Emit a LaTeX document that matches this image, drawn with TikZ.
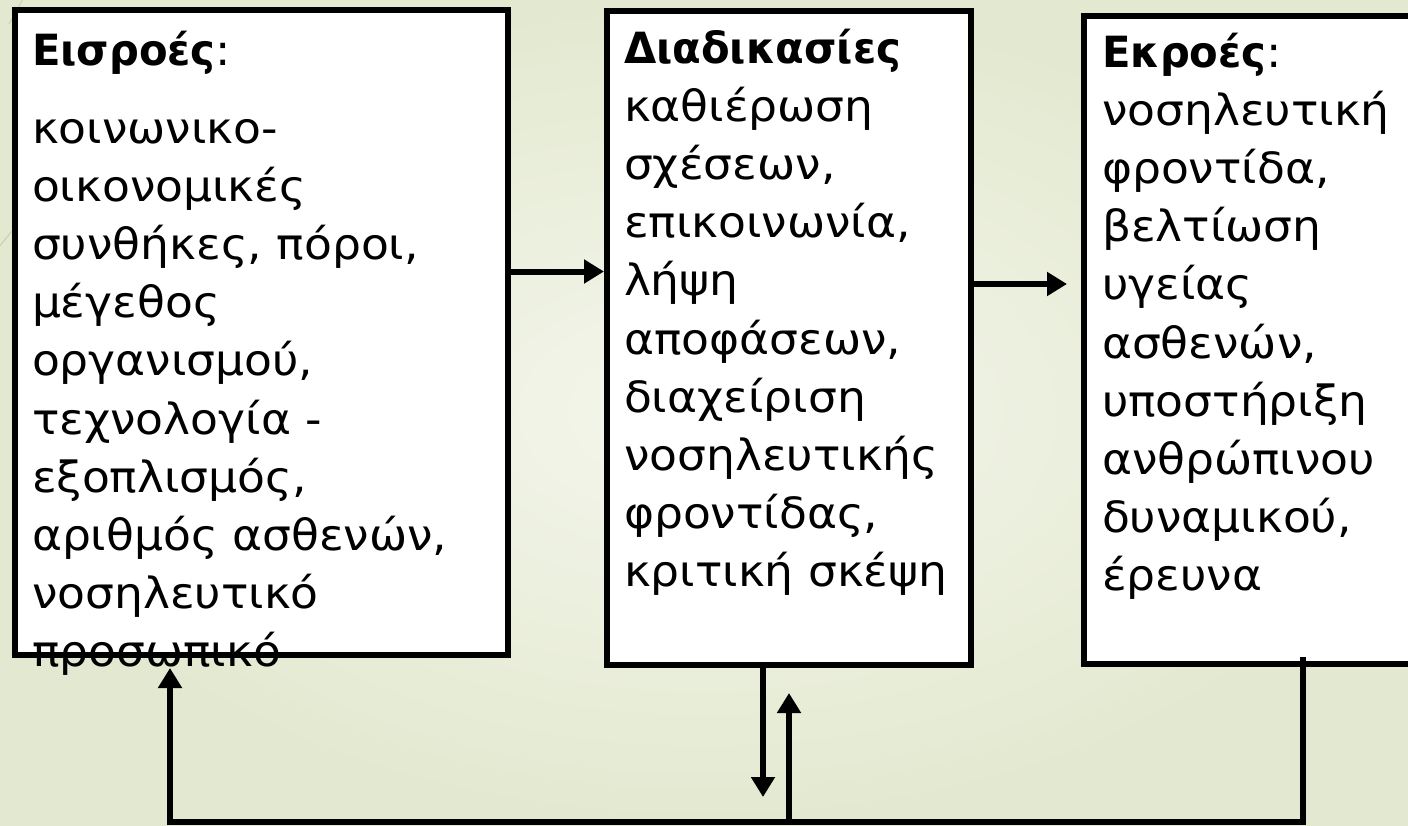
\documentclass[tikz,border=0pt]{standalone}
\usepackage{fontspec}
\setmainfont{DejaVu Sans}[FakeStretch=1.06, BoldFeatures={FakeStretch=0.97}]
\usetikzlibrary{arrows.meta}
\definecolor{bgin}{HTML}{F4F6EC}
\definecolor{bgout}{HTML}{E3E9D0}
\definecolor{wisp}{HTML}{C9D0B2}
\begin{document}
\begin{tikzpicture}[x=1pt,y=-1pt,
  box/.style={draw=black, line width=6pt, fill=white, inner sep=0pt, outer sep=0pt, anchor=north west},
  txt/.style={anchor=base west, inner sep=0pt, outer sep=0pt},
  conn/.style={line width=6pt, draw=black},
  arr/.style={conn, -{Triangle[length=20pt,width=23pt]}}]
\useasboundingbox (0,0) rectangle (1408,825);
\clip (0,0) rectangle (1408,825);
\shade[inner color=bgin, outer color=bgout] (0,0) rectangle (1408,825);
\draw[wisp, line width=1pt] (23,-1) -- (9,24);
\draw[wisp, line width=1pt] (16,226) -- (-1,247);

\node[box, minimum width=493pt, minimum height=645pt] (in) at (15,10) {};
\node[box, minimum width=364pt, minimum height=654pt] (proc) at (607,11) {};
\node[box, minimum width=400pt, minimum height=648pt] (out) at (1084,16) {};

\newcommand{\boxtext}[2]{\begin{minipage}[t]{#1}\fontsize{43}{58.2}\selectfont\raggedright #2\end{minipage}}

\node[txt] (tin) at (32,65) {\boxtext{480pt}{\textbf{Εισροές}:\\[19.8pt]
κοινωνικο-\\
οικονομικές\\
συνθήκες, πόροι,\\
μέγεθος\\
οργανισμού,\\
τεχνολογία -\\
εξοπλισμός,\\
αριθμός ασθενών,\\
νοσηλευτικό\\
προσωπικό}};
\node[txt] (tproc) at (624,63) {\boxtext{345pt}{\textbf{Διαδικασίες}\\
καθιέρωση\\
σχέσεων,\\
επικοινωνία,\\
λήψη\\
αποφάσεων,\\
διαχείριση\\
νοσηλευτικής\\
φροντίδας,\\
κριτική σκέψη}};
\node[txt] (tout) at (1102,67) {\boxtext{300pt}{\textbf{Εκροές}:\\
νοσηλευτική\\
φροντίδα,\\
βελτίωση\\
υγείας\\
ασθενών,\\
υποστήριξη\\
ανθρώπινου\\
δυναμικού,\\
έρευνα}};

\coordinate (a1) at (0,271.5);
\coordinate (a2) at (0,284);
\coordinate (d1) at (763,797);
\coordinate (u1) at (789,693);
\coordinate (bl) at (0,822);
\coordinate (fbtop) at (1303,657);
\coordinate (fi) at (170,0);

\draw[arr, shorten >=3pt] (in.east |- a1) -- (proc.west |- a1);
\draw[arr, shorten >=17pt] (proc.east |- a2) -- (out.west |- a2);
\draw[arr] (proc.south -| d1) -- (d1);
\draw[arr, shorten >=13pt, line join=miter] (fbtop) -- (fbtop |- bl) -- (fi |- bl) -- (in.south -| fi);
\draw[arr] (u1 |- bl) -- (u1);
\end{tikzpicture}
\end{document}
